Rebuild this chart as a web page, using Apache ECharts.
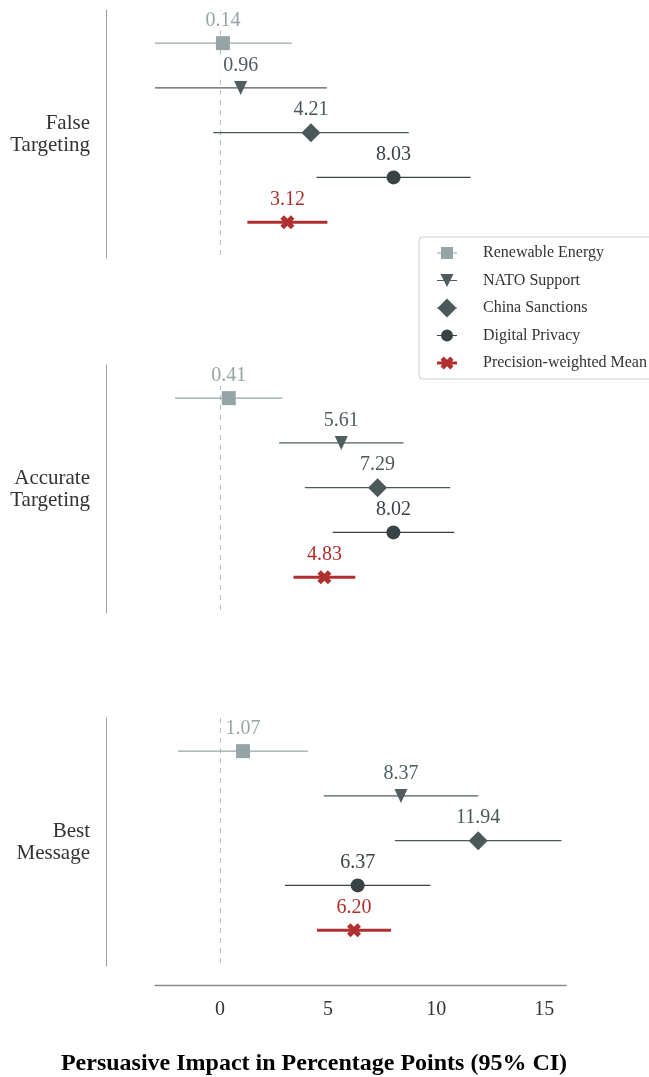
<!DOCTYPE html>
<html>
<head>
<meta charset="utf-8">
<script src="https://cdn.jsdelivr.net/npm/echarts@6/dist/echarts.min.js"></script>
<style>
  html, body { margin: 0; padding: 0; background: #fff; }
  #chart { width: 649px; height: 1077px; }
</style>
</head>
<body>
<div id="chart"></div>
<script>
// Topics (rows within each panel) and the panels themselves
const topics = ['Renewable Energy', 'NATO Support', 'China Sanctions', 'Digital Privacy', 'Precision-weighted Mean'];
const panelLabels = ['False\nTargeting', 'Accurate\nTargeting', 'Best\nMessage'];
const xTicks = [0, 5, 10, 15];
const xTitle = 'Persuasive Impact in Percentage Points (95% CI)';

// Point estimates and 95% CI bounds, ordered as in `topics`
const falseEst  = [0.14, 0.96, 4.21, 8.03, 3.12];
const falseLow  = [-3.00, -3.00, -0.31, 4.47, 1.27];
const falseHigh = [3.32, 4.94, 8.73, 11.59, 4.97];

const accurateEst  = [0.41, 5.61, 7.29, 8.02, 4.83];
const accurateLow  = [-2.07, 2.74, 3.93, 5.21, 3.40];
const accurateHigh = [2.89, 8.48, 10.65, 10.83, 6.26];

const bestEst  = [1.07, 8.37, 11.94, 6.37, 6.20];
const bestLow  = [-1.93, 4.80, 8.09, 3.01, 4.49];
const bestHigh = [4.07, 11.94, 15.79, 9.73, 7.91];

const panelEst  = [falseEst, accurateEst, bestEst];
const panelLow  = [falseLow, accurateLow, bestLow];
const panelHigh = [falseHigh, accurateHigh, bestHigh];

const colors = ['#95a5a6', '#4f5d60', '#4a5859', '#394346', '#b03030'];
const FONT = '"Liberation Serif", "Times New Roman", serif';

// Legend icons: error-bar line with the marker drawn on top
const legendIcons = [
  'path://M0,5.4H20V6.6H0Z M4,0H16V12H4Z',
  'path://M0,5.9H20V7.1H0Z M3.5,0H16.5L10,13Z',
  'path://M0,9H20V10H0Z M10,0L19.5,9.5L10,19L0.5,9.5Z',
  'path://M0,5.9H20V7.1H0Z M10,0.5A6,6 0 1,1 9.99,0.5Z',
  'path://M0,5H20V8H0Z M3.5,3.25L6.75,0L10,3.25L13.25,0L16.5,3.25L13.25,6.5L16.5,9.75L13.25,13L10,9.75L6.75,13L3.5,9.75L6.75,6.5Z'
];

const xPath = 'M0,2.5L2.5,0L5,2.5L7.5,0L10,2.5L7.5,5L10,7.5L7.5,10L5,7.5L2.5,10L0,7.5L2.5,5Z';

function markerFor(topic, x, y, color) {
  switch (topic) {
    case 0: return { type: 'rect', shape: { x: x - 7, y: y - 7, width: 14, height: 14 }, style: { fill: color } };
    case 1: return { type: 'polygon', shape: { points: [[x - 6.5, y - 7], [x + 6.5, y - 7], [x, y + 7]] }, style: { fill: color } };
    case 2: return { type: 'polygon', shape: { points: [[x, y - 9.5], [x + 9.5, y], [x, y + 9.5], [x - 9.5, y]] }, style: { fill: color } };
    case 3: return { type: 'circle', shape: { cx: x, cy: y, r: 7 }, style: { fill: color } };
    default: return { type: 'path', shape: { pathData: xPath, x: x - 7, y: y - 7, width: 14, height: 14, layout: 'cover' }, style: { fill: color } };
  }
}

function makeRenderer(topic) {
  const color = colors[topic];
  const isMean = topic === 4;
  return function (params, api) {
    const est = api.value(0), lo = api.value(1), hi = api.value(2), row = api.value(3);
    const p = api.coord([est, row]);
    const a = api.coord([lo, row]);
    const b = api.coord([hi, row]);
    return {
      type: 'group',
      children: [
        { type: 'line', shape: { x1: a[0], y1: a[1], x2: b[0], y2: b[1] },
          style: { stroke: color, lineWidth: isMean ? 3 : 1.2 } },
        markerFor(topic, p[0], p[1], color),
        { type: 'text', x: p[0], y: p[1] - 22.5,
          style: { text: est.toFixed(2), fill: color, font: '20px ' + FONT,
                   align: 'center', verticalAlign: 'middle',
                   backgroundColor: '#fff', padding: [0, 3] } }
      ]
    };
  };
}

const gridTops = [10, 365, 718];
const gridHeight = 248;

const grids = gridTops.map(t => ({ left: 155, right: 83, top: t, height: gridHeight }));

const xAxes = gridTops.map((t, i) => {
  const last = i === gridTops.length - 1;
  return {
    type: 'value', gridIndex: i, min: -3, max: 16,
    show: last, position: 'bottom', offset: 19,
    axisLine: { show: true, onZero: false, lineStyle: { color: '#8a8a8a', width: 1.3 } },
    axisTick: { show: false },
    splitLine: { show: false },
    axisLabel: { customValues: xTicks, fontSize: 20, fontFamily: FONT, color: '#333', margin: 15 }
  };
});

const yAxes = panelLabels.map((label, i) => ({
  type: 'value', gridIndex: i, min: -0.74, max: 4.8, inverse: true,
  position: 'left', offset: 49,
  axisLine: { show: true, onZero: false, lineStyle: { color: '#a0a0a0', width: 1 } },
  axisTick: { show: false }, axisLabel: { show: false }, splitLine: { show: false },
  name: label, nameLocation: 'middle', nameRotate: 0, nameGap: 16,
  nameTextStyle: { align: 'right', verticalAlign: 'middle', fontSize: 21, lineHeight: 22,
                   fontFamily: FONT, color: '#333' }
}));

const series = [];
for (let p = 0; p < 3; p++) {
  for (let t = 0; t < topics.length; t++) {
    const s = {
      type: 'custom', name: topics[t], xAxisIndex: p, yAxisIndex: p,
      itemStyle: { color: colors[t] },
      renderItem: makeRenderer(t),
      data: [[panelEst[p][t], panelLow[p][t], panelHigh[p][t], t]],
      animation: false, z: 3
    };
    if (t === 0) {
      s.markLine = {
        silent: true, symbol: ['none', 'none'], label: { show: false },
        lineStyle: { color: '#bdbdbd', type: [5, 5], width: 1 },
        data: [{ xAxis: 0 }], animation: false, z: 1
      };
    }
    series.push(s);
  }
}

const chart = echarts.init(document.getElementById('chart'), null, { renderer: 'canvas' });
chart.setOption({
  backgroundColor: '#fff',
  animation: false,
  grid: grids,
  xAxis: xAxes,
  yAxis: yAxes,
  legend: {
    orient: 'vertical', left: 419, top: 237,
    padding: [6.5, 14, 6.5, 18], itemGap: 8.5, itemWidth: 20, itemHeight: 19,
    symbolKeepAspect: true,
    backgroundColor: '#fff', borderColor: '#cfcfcf', borderWidth: 1, borderRadius: 4,
    textStyle: { fontSize: 16, lineHeight: 19, fontFamily: FONT, color: '#333', padding: [0, 0, 0, 21] },
    data: topics.map((n, i) => ({ name: n, icon: legendIcons[i], itemStyle: { color: colors[i] } })),
    selectedMode: false
  },
  graphic: [{
    type: 'text', x: 314, y: 1064,
    style: { text: xTitle, font: 'bold 24px ' + FONT, fill: '#000', align: 'center', verticalAlign: 'middle' }
  }],
  series: series
});
</script>
</body>
</html>
